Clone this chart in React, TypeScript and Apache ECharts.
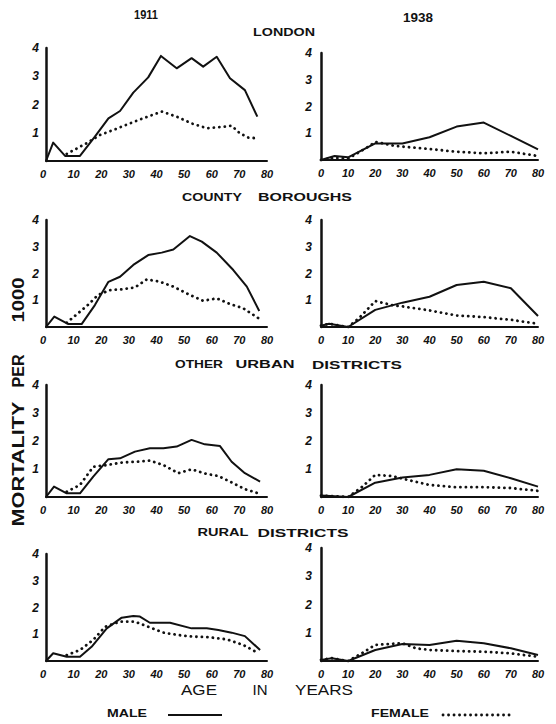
import React, { useEffect, useRef } from "react";
import * as echarts from "echarts";

// ---------- DATA (ages in years, mortality per 1000) ----------
// London
const london1911MaleAges = [0, 2.6, 6.9, 12.3, 17.7, 22.6, 26.8, 31.6, 37.0, 41.6, 47.3, 52.7, 56.9, 61.8, 66.6, 72.0, 76.5];
const london1911Male = [0, 0.65, 0.18, 0.18, 0.86, 1.51, 1.77, 2.42, 2.96, 3.72, 3.28, 3.64, 3.34, 3.69, 2.93, 2.51, 1.57];
const london1911FemaleAges = [7.5, 14.7, 19.5, 25.0, 29.8, 34.6, 41.9, 47.3, 52.7, 58.2, 64.2, 67.2, 70.2, 73.2, 76.9];
const london1911Female = [0.25, 0.63, 0.92, 1.12, 1.31, 1.49, 1.75, 1.57, 1.33, 1.16, 1.21, 1.25, 0.98, 0.83, 0.8];
const london1938MaleAges = [0, 5, 10, 20, 30, 40, 50, 60, 70, 80];
const london1938Male = [0, 0.15, 0.1, 0.62, 0.62, 0.85, 1.25, 1.4, 0.9, 0.4];
const london1938FemaleAges = [0, 5, 10, 18, 20, 27, 30, 40, 50, 60, 70, 80];
const london1938Female = [0, 0.08, 0.05, 0.53, 0.68, 0.53, 0.5, 0.41, 0.31, 0.25, 0.31, 0.15];

// County boroughs
const county1911MaleAges = [0, 3.0, 8.1, 12.9, 17.7, 22.6, 26.8, 31.6, 37.0, 41.9, 46.1, 52.1, 56.4, 61.8, 67.8, 72.7, 77.2];
const county1911Male = [0, 0.39, 0.11, 0.11, 0.82, 1.69, 1.88, 2.32, 2.69, 2.78, 2.9, 3.4, 3.19, 2.78, 2.13, 1.51, 0.6];
const county1911FemaleAges = [7.5, 14.7, 18.9, 23.2, 27.4, 32.2, 36.5, 41.3, 46.1, 52.1, 56.9, 61.8, 66.6, 71.4, 76.9];
const county1911Female = [0.16, 0.78, 1.2, 1.38, 1.41, 1.48, 1.78, 1.69, 1.51, 1.2, 0.98, 1.07, 0.86, 0.7, 0.33];
const county1938MaleAges = [0, 3, 10, 20, 30, 40, 50, 60, 70, 80];
const county1938Male = [0.05, 0.12, 0, 0.64, 0.91, 1.13, 1.57, 1.69, 1.45, 0.41];
const county1938FemaleAges = [0, 3, 10, 14, 20, 27, 30, 40, 50, 60, 70, 80];
const county1938Female = [0.05, 0.12, 0, 0.33, 0.97, 0.8, 0.77, 0.62, 0.43, 0.37, 0.27, 0.12];

// Other urban districts
const urban1911MaleAges = [0, 2.9, 7.5, 12.3, 17.1, 22.6, 26.8, 32.2, 37.6, 42.5, 47.3, 52.7, 57.5, 63.0, 67.2, 72.0, 77.5];
const urban1911Male = [0, 0.37, 0.13, 0.13, 0.73, 1.35, 1.38, 1.62, 1.74, 1.74, 1.8, 2.04, 1.88, 1.82, 1.26, 0.85, 0.55];
const urban1911FemaleAges = [7.5, 12.3, 17.1, 22.0, 27.4, 32.8, 37.6, 42.5, 47.9, 52.7, 58.2, 62.4, 66.6, 72.0, 76.9];
const urban1911Female = [0.19, 0.43, 1.08, 1.14, 1.23, 1.26, 1.3, 1.14, 0.85, 0.99, 0.82, 0.75, 0.55, 0.28, 0.13];
const urban1938MaleAges = [0, 10, 20, 30, 40, 50, 60, 70, 80];
const urban1938Male = [0.05, 0, 0.51, 0.7, 0.79, 0.99, 0.94, 0.67, 0.37];
const urban1938FemaleAges = [0, 10, 15, 20, 26, 32, 40, 50, 60, 70, 80];
const urban1938Female = [0.05, 0, 0.35, 0.79, 0.75, 0.61, 0.43, 0.35, 0.35, 0.32, 0.22];

// Rural districts
const rural1911MaleAges = [0, 2.6, 7.5, 12.3, 16.5, 22.0, 27.4, 31.6, 34.0, 37.6, 44.9, 52.7, 58.2, 62.4, 67.2, 72.0, 77.5];
const rural1911Male = [0, 0.29, 0.16, 0.16, 0.53, 1.22, 1.62, 1.68, 1.66, 1.43, 1.43, 1.22, 1.22, 1.16, 1.06, 0.93, 0.41];
const rural1911FemaleAges = [7.5, 12.3, 17.1, 21.4, 26.8, 32.2, 37.0, 42.5, 47.9, 53.3, 58.8, 65.4, 71.4, 76.9];
const rural1911Female = [0.22, 0.41, 0.79, 1.28, 1.47, 1.47, 1.28, 1.06, 0.97, 0.91, 0.89, 0.81, 0.6, 0.29];
const rural1938MaleAges = [0, 4, 10, 20, 30, 40, 50, 60, 70, 80];
const rural1938Male = [0.04, 0.1, 0, 0.39, 0.6, 0.57, 0.72, 0.63, 0.45, 0.21];
const rural1938FemaleAges = [0, 4, 10, 15, 20, 25, 30, 35, 40, 50, 60, 70, 80];
const rural1938Female = [0.04, 0.1, 0, 0.27, 0.57, 0.6, 0.63, 0.45, 0.39, 0.35, 0.33, 0.27, 0.15];

const xTicks = [0, 10, 20, 30, 40, 50, 60, 70, 80];
const yTicks = [1, 2, 3, 4];
const yearLabels = ["1911", "1938"];
const districtWords = [["LONDON"], ["COUNTY", "BOROUGHS"], ["OTHER", "URBAN", "DISTRICTS"], ["RURAL", "DISTRICTS"]];

// ---------- LAYOUT ----------
const INK = "#111";
const FONT = "'Liberation Sans', Arial, sans-serif";
const LEFT_X = 46, LEFT_W = 221, RIGHT_X = 321, RIGHT_W = 217;
const ROWS = [
  { lt: 48, lb: 161, rt: 53, rb: 160 },
  { lt: 220, lb: 327, rt: 220, rb: 327 },
  { lt: 385, lb: 497, rt: 385, rb: 497 },
  { lt: 554, lb: 661, rt: 548, rb: 661 },
];

const panels = [
  [london1911MaleAges, london1911Male, london1911FemaleAges, london1911Female],
  [london1938MaleAges, london1938Male, london1938FemaleAges, london1938Female],
  [county1911MaleAges, county1911Male, county1911FemaleAges, county1911Female],
  [county1938MaleAges, county1938Male, county1938FemaleAges, county1938Female],
  [urban1911MaleAges, urban1911Male, urban1911FemaleAges, urban1911Female],
  [urban1938MaleAges, urban1938Male, urban1938FemaleAges, urban1938Female],
  [rural1911MaleAges, rural1911Male, rural1911FemaleAges, rural1911Female],
  [rural1938MaleAges, rural1938Male, rural1938FemaleAges, rural1938Female],
];

let measureCtx: CanvasRenderingContext2D | null = null;
function measure(text: string, font: string): number {
  if (!measureCtx) measureCtx = document.createElement("canvas").getContext("2d");
  if (!measureCtx) return text.length * 7;
  measureCtx.font = font;
  return measureCtx.measureText(text).width;
}

function word(text: string, cx: number, cy: number, targetW: number, size: number, weight: string, rotation = 0) {
  const font = `${weight} ${size}px ${FONT}`;
  const w = measure(text, font) || 1;
  return {
    type: "text",
    x: cx,
    y: cy,
    rotation,
    scaleX: targetW / w,
    silent: true,
    style: { text, fill: INK, font, textAlign: "center", textVerticalAlign: "middle" },
  };
}

function zip(a: number[], b: number[]) {
  return a.map((x, i) => [x, b[i]]);
}

export default function App() {
  const ref = useRef<HTMLDivElement>(null);
  useEffect(() => {
    if (!ref.current) return;
    const chart = echarts.init(ref.current, null, { renderer: "svg" });
    const grids: any[] = [];
    const xAxes: any[] = [];
    const yAxes: any[] = [];
    const series: any[] = [];
    panels.forEach((p, i) => {
      const row = ROWS[Math.floor(i / 2)];
      const isLeft = i % 2 === 0;
      const top = isLeft ? row.lt : row.rt;
      const bottom = isLeft ? row.lb : row.rb;
      grids.push({ left: isLeft ? LEFT_X : RIGHT_X, width: isLeft ? LEFT_W : RIGHT_W, top, height: bottom - top });
      xAxes.push({
        type: "value", gridIndex: i, min: xTicks[0], max: xTicks[xTicks.length - 1], interval: 10,
        axisLine: { show: true, onZero: false, lineStyle: { color: INK, width: 2 } },
        axisTick: { show: false }, splitLine: { show: false },
        axisLabel: {
          color: INK, fontFamily: FONT, fontStyle: "italic", fontWeight: "bold", fontSize: 11, margin: 7,
          alignMinLabel: isLeft ? "right" : "center",
        },
      });
      yAxes.push({
        type: "value", gridIndex: i, min: 0, max: yTicks[yTicks.length - 1], interval: 1,
        axisLine: { show: true, lineStyle: { color: INK, width: 2.5 } },
        axisTick: { show: false }, splitLine: { show: false },
        axisLabel: {
          color: INK, fontFamily: FONT, fontStyle: "italic", fontWeight: "bold", fontSize: 12, margin: isLeft ? 7 : 9,
          formatter: (v: number) => (yTicks.indexOf(v) >= 0 ? String(v) : ""),
        },
      });
      series.push({
        type: "line", name: "MALE", xAxisIndex: i, yAxisIndex: i, data: zip(p[0], p[1]),
        showSymbol: false, symbol: "none", silent: true,
        lineStyle: { color: INK, width: 2, join: "round" },
      });
      series.push({
        type: "line", name: "FEMALE", xAxisIndex: i, yAxisIndex: i, data: zip(p[2], p[3]),
        showSymbol: false, symbol: "none", silent: true,
        lineStyle: { color: INK, width: 2.8, type: [0.1, 5.4], cap: "round", join: "round" },
      });
    });

    const graphic: any[] = [
      word(yearLabels[0], 146, 15, 24, 12, "bold"),
      word(yearLabels[1], 418, 18, 30, 12, "bold"),
      word(districtWords[0][0], 284, 33, 62, 10, "bold"),
      word(districtWords[1][0], 212, 198, 60, 10, "bold"),
      word(districtWords[1][1], 305, 198, 94, 10, "bold"),
      word(districtWords[2][0], 199, 365, 48, 10, "bold"),
      word(districtWords[2][1], 265, 365, 59, 10, "bold"),
      word(districtWords[2][2], 357, 365, 90, 10, "bold"),
      word(districtWords[3][0], 223, 533, 51, 10, "bold"),
      word(districtWords[3][1], 303, 533, 91, 10, "bold"),
      word("1000", 18, 300, 45, 17, "bold", Math.PI / 2),
      word("PER", 18, 371, 33, 17, "bold", Math.PI / 2),
      word("MORTALITY", 18, 464, 125, 17, "bold", Math.PI / 2),
      word("AGE", 199, 690, 36, 14, "normal"),
      word("IN", 260, 690, 15, 14, "normal"),
      word("YEARS", 324, 690, 58, 14, "normal"),
      word("MALE", 127, 714, 40, 10, "bold"),
      word("FEMALE", 400, 714, 58, 10, "bold"),
      { type: "line", silent: true, shape: { x1: 168, y1: 715, x2: 222, y2: 715 }, style: { stroke: INK, lineWidth: 2 } },
      {
        type: "line", silent: true, shape: { x1: 443, y1: 715, x2: 510, y2: 715 },
        style: { stroke: INK, lineWidth: 2.8, lineDash: [0.1, 5.4], lineCap: "round" },
      },
    ];

    chart.setOption({
      animation: false,
      backgroundColor: "#fff",
      grid: grids,
      xAxis: xAxes,
      yAxis: yAxes,
      series,
      graphic,
    });
    return () => chart.dispose();
  }, []);
  return <div ref={ref} style={{ position: "absolute", left: 0, top: 0, width: 556, height: 724 }} />;
}
